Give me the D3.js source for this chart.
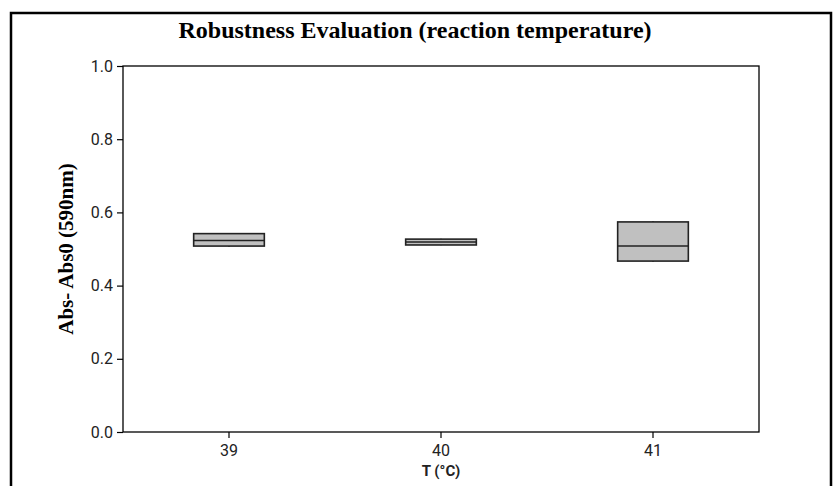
<!DOCTYPE html>
<html><head><meta charset="utf-8">
<script src="https://cdn.jsdelivr.net/npm/d3@7"></script>
<style>body{margin:0;background:#fff}</style>
</head><body>
<svg id="c" width="833" height="486"></svg>
<script>
const categories = ["39","40","41"];
const q1Values = [0.508, 0.511, 0.467];
const medianValues = [0.523, 0.519, 0.508];
const q3Values = [0.542, 0.527, 0.574];
const minValues = [0.506, 0.510, 0.465];
const maxValues = [0.544, 0.528, 0.576];
const yTicks = [0.0, 0.2, 0.4, 0.6, 0.8, 1.0];

const svg = d3.select("#c");
const m = {l:123, t:66, r:759, b:432};
const x = d3.scaleBand().domain(categories).range([m.l, m.r]);
const y = d3.scaleLinear().domain([0,1]).range([m.b, m.t]);

// outer frame
svg.append("path").attr("d", `M11,486V13H831V486`).attr("fill","none").attr("stroke","#000").attr("stroke-width",2.5);

// plot border
svg.append("rect").attr("x",m.l).attr("y",m.t).attr("width",m.r-m.l).attr("height",m.b-m.t)
  .attr("fill","none").attr("stroke","#000").attr("stroke-width",1.3);

const ya = svg.append("g").attr("transform",`translate(${m.l},0)`)
  .call(d3.axisLeft(y).tickValues(yTicks).tickFormat(d3.format(".1f")).tickSize(6).tickPadding(4));
const xa = svg.append("g").attr("transform",`translate(0,${m.b})`)
  .call(d3.axisBottom(x).tickSize(6).tickPadding(7));
[ya,xa].forEach(g=>{
  g.select(".domain").remove();
  g.selectAll("line").attr("stroke","#000").attr("stroke-width",1.2);
  g.selectAll("text").attr("font-family","Roboto, 'Open Sans', sans-serif").attr("font-size",16).attr("fill","#222");
});

const bw = x.bandwidth()/3;
categories.forEach((c,i)=>{
  const cx = x(c) + x.bandwidth()/2;
  const g = svg.append("g");
  g.append("line").attr("x1",cx).attr("x2",cx).attr("y1",y(maxValues[i])).attr("y2",y(minValues[i]))
    .attr("stroke","#222").attr("stroke-width",1.5);
  g.append("rect").attr("x",cx-bw/2).attr("width",bw).attr("y",y(q3Values[i])).attr("height",y(q1Values[i])-y(q3Values[i]))
    .attr("fill","#c0c0c0").attr("stroke","#222").attr("stroke-width",1.6);
  g.append("line").attr("x1",cx-bw/2).attr("x2",cx+bw/2).attr("y1",y(medianValues[i])).attr("y2",y(medianValues[i]))
    .attr("stroke","#222").attr("stroke-width",1.5);
});

svg.append("text").attr("x",415).attr("y",38).attr("text-anchor","middle")
  .attr("font-family","'Liberation Serif', serif").attr("font-weight","bold").attr("font-size",24)
  .text("Robustness Evaluation (reaction temperature)");
svg.append("text").attr("transform",`translate(73,${(m.t+m.b)/2}) rotate(-90)`).attr("text-anchor","middle")
  .attr("font-family","'Liberation Serif', serif").attr("font-weight","bold").attr("font-size",21)
  .text("Abs- Abs0 (590nm)");
svg.append("text").attr("x",(m.l+m.r)/2).attr("y",476).attr("text-anchor","middle")
  .attr("font-family","Roboto, 'Open Sans', sans-serif").attr("font-weight","bold").attr("font-size",15).attr("fill","#222")
  .text("T (°C)");
</script>
</body></html>
